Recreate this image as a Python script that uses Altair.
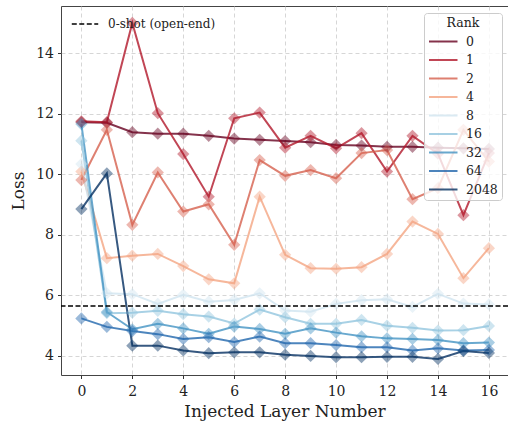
import altair as alt
import pandas as pd

layers_x = list(range(17))
ranks = ["0", "1", "2", "4", "8", "16", "32", "64", "2048"]

loss_r0 = [11.72, 11.70, 11.39, 11.34, 11.34, 11.27, 11.18, 11.14, 11.10, 11.06, 10.97, 10.95, 10.91, 10.91, 10.88, 10.86, 10.84]
loss_r1 = [11.75, 11.72, 15.00, 12.02, 10.67, 9.26, 11.85, 12.04, 10.88, 11.27, 10.86, 11.36, 10.09, 11.27, 10.68, 8.65, 10.70]
loss_r2 = [9.81, 11.47, 8.33, 10.06, 8.77, 9.01, 7.67, 10.47, 9.95, 10.14, 9.87, 10.70, 10.80, 9.18, 9.54, 11.47, 10.42]
loss_r4 = [10.09, 7.23, 7.31, 7.37, 6.97, 6.53, 6.40, 9.26, 7.34, 6.90, 6.88, 6.93, 7.37, 8.44, 8.03, 6.57, 7.56]
loss_r8 = [10.34, 6.07, 6.04, 5.72, 6.02, 5.79, 5.85, 6.07, 5.50, 5.46, 5.72, 5.84, 5.87, 5.62, 6.05, 5.73, 5.70]
loss_r16 = [11.11, 5.41, 5.43, 5.49, 5.38, 5.30, 5.07, 5.53, 5.28, 5.06, 5.06, 5.19, 5.00, 4.93, 4.84, 4.85, 4.99]
loss_r32 = [11.66, 5.45, 4.88, 5.06, 4.91, 4.73, 4.97, 4.89, 4.73, 4.91, 4.77, 4.65, 4.58, 4.56, 4.53, 4.42, 4.44]
loss_r64 = [5.24, 4.96, 4.82, 4.72, 4.56, 4.62, 4.46, 4.64, 4.42, 4.42, 4.36, 4.29, 4.29, 4.18, 4.25, 4.18, 4.20]
loss_r2048 = [8.85, 10.03, 4.34, 4.34, 4.18, 4.09, 4.12, 4.12, 4.04, 4.00, 3.96, 3.96, 3.97, 3.97, 3.90, 4.16, 4.10]

zero_shot_loss = 5.65
zero_shot_label = "0-shot (open-end)"

colors = ["#67001f", "#b2182b", "#d6604d", "#f4a582", "#d1e5f0",
          "#92c5de", "#4393c3", "#2166ac", "#053061"]

series = [loss_r0, loss_r1, loss_r2, loss_r4, loss_r8, loss_r16, loss_r32, loss_r64, loss_r2048]
rows = []
for i, (r, vals) in enumerate(zip(ranks, series)):
    for x, v in zip(layers_x, vals):
        rows.append({"layer": x, "loss": v, "Rank": r, "order": i})
df = pd.DataFrame(rows)

FONT = "DejaVu Serif"
LINE_SYMBOL = "M-1,0H3.75"

x_enc = alt.X("layer:Q",
              scale=alt.Scale(domain=[-0.8, 16.75], nice=False, zero=False),
              axis=alt.Axis(values=list(range(0, 17, 2)), title="Injected Layer Number",
                            labelPadding=6, titlePadding=5))
y_enc = alt.Y("loss:Q",
              scale=alt.Scale(domain=[3.37, 15.56], nice=False, zero=False),
              axis=alt.Axis(values=[4, 6, 8, 10, 12, 14], title="Loss"))

rank_legend = alt.Legend(
    title="Rank", orient="none", legendX=363, legendY=7,
    symbolType=LINE_SYMBOL, symbolSize=144, symbolStrokeWidth=2, symbolOpacity=0.8,
    labelFontSize=12.5, titleFontSize=12.5, labelFont=FONT, titleFont=FONT,
    titleFontWeight="normal", titleAnchor="middle", titleColor="#222", labelColor="#222",
    fillColor="rgba(255,255,255,0.8)", strokeColor="#cccccc", cornerRadius=3,
    padding=4, rowPadding=4.5, labelOffset=24, titlePadding=5,
)
color_enc = alt.Color("Rank:N", scale=alt.Scale(domain=ranks, range=colors),
                      sort=ranks, legend=rank_legend)

lines = alt.Chart(df).mark_line(strokeWidth=2, opacity=0.8).encode(
    x=x_enc, y=y_enc, color=color_enc, order="layer:Q"
)
points = alt.Chart(df).mark_point(shape="diamond", filled=True, size=150, opacity=0.45).encode(
    x=x_enc, y=y_enc, color=color_enc
)

zs = pd.DataFrame({"loss": [zero_shot_loss], "label": [zero_shot_label]})
zs_rule = alt.Chart(zs).mark_rule(color="black", strokeWidth=1.3).encode(
    y=alt.Y("loss:Q", scale=alt.Scale(domain=[3.37, 15.56], nice=False, zero=False)),
    strokeDash=alt.StrokeDash(
        "label:N",
        scale=alt.Scale(domain=[zero_shot_label], range=[[5, 2.5]]),
        legend=alt.Legend(title=None, orient="none", legendX=10, legendY=4,
                          symbolType="stroke", symbolSize=700, symbolStrokeWidth=1.3,
                          symbolStrokeColor="black", labelFontSize=12, labelFont=FONT,
                          labelColor="#222", labelOffset=9, padding=0),
    ),
)

chart = alt.layer(lines, points, zs_rule).resolve_legend(strokeDash="independent").properties(
    width=447, height=369,
    padding={"left": 61, "top": 6, "right": 0, "bottom": 48},
    autosize=alt.AutoSizeParams(type="none"),
).configure_view(
    stroke="#444444", strokeWidth=1
).configure_axis(
    labelFont=FONT, titleFont=FONT, labelFontSize=14, titleFontSize=17,
    titleFontWeight="normal", labelColor="#222", titleColor="#222",
    gridColor="#cccccc", gridDash=[4, 3], gridWidth=0.8,
    domain=False, tickColor="#333333", tickSize=3.5, tickWidth=1,
    labelPadding=4,
).configure_axisY(
    titlePadding=8
)

chart.save("out.html", embed_options={"renderer": "svg", "actions": False})
